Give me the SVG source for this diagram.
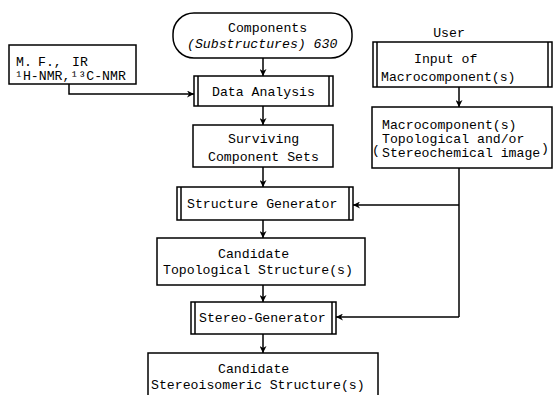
<svg xmlns="http://www.w3.org/2000/svg" width="554" height="395" viewBox="0 0 554 395">
<style>
.b{fill:#fff;stroke:#000;stroke-width:1.5}
.l{fill:none;stroke:#000;stroke-width:1.5}
.c{fill:none;stroke:#000;stroke-width:1.5;marker-end:url(#ah)}
text{font-family:"Liberation Mono","DejaVu Sans Mono",monospace;font-size:13.2px;fill:#000}
.m{text-anchor:middle}
</style>
<defs>
<marker id="ah" viewBox="0 0 10 10" refX="10" refY="5" markerWidth="7" markerHeight="7" markerUnits="userSpaceOnUse" orient="auto">
<path d="M0,0 L10,5 L0,10 L3,5 Z" fill="#000"/>
</marker>
</defs>
<rect width="554" height="395" fill="#fff"/>
<g id="connectors">
<line class="c" x1="263" y1="58" x2="263" y2="76"/>
<polyline class="c" points="69,84 69,94 194,94"/>
<line class="c" x1="263" y1="106" x2="263" y2="125"/>
<line class="c" x1="263" y1="167" x2="263" y2="187"/>
<line class="c" x1="263" y1="220" x2="263" y2="238"/>
<line class="c" x1="263" y1="285" x2="263" y2="302"/>
<line class="c" x1="263" y1="334" x2="263" y2="353"/>
<line class="c" x1="459" y1="87" x2="459" y2="107"/>
<polyline class="l" points="459,168 459,317"/>
<line class="c" x1="459" y1="205" x2="353" y2="205"/>
<line class="c" x1="459" y1="317" x2="336" y2="317"/>
</g>
<g id="components">
<rect class="b" x="173" y="13" width="179" height="45" rx="21"/>
<text x="228" y="32">Components</text>
<text x="187" y="48" font-style="italic">(Substructures) 630</text>
</g>
<g id="mf">
<rect class="b" x="9" y="45" width="127" height="39"/>
<text x="16" y="66">M.</text>
<text x="38" y="66">F.,</text>
<text x="72" y="66">IR</text>
<text x="15" y="80">¹H-NMR,¹³C-NMR</text>
</g>
<g id="data-analysis">
<rect class="b" x="194" y="76" width="139" height="30"/>
<line class="l" x1="198" y1="76" x2="198" y2="106"/>
<line class="l" x1="329" y1="76" x2="329" y2="106"/>
<text x="212" y="96">Data Analysis</text>
</g>
<g id="surviving">
<rect class="b" x="193" y="125" width="140" height="42"/>
<text x="228" y="143">Surviving</text>
<text x="208" y="161">Component Sets</text>
</g>
<g id="structure-generator">
<rect class="b" x="177" y="187" width="176" height="33"/>
<line class="l" x1="181" y1="187" x2="181" y2="220"/>
<line class="l" x1="349" y1="187" x2="349" y2="220"/>
<text x="187" y="208">Structure Generator</text>
</g>
<g id="candidate-topological">
<rect class="b" x="157" y="238" width="208" height="47"/>
<text x="218" y="258">Candidate</text>
<text x="163" y="274">Topological Structure(s)</text>
</g>
<g id="stereo-generator">
<rect class="b" x="191" y="302" width="145" height="32"/>
<line class="l" x1="195" y1="302" x2="195" y2="334"/>
<line class="l" x1="332" y1="302" x2="332" y2="334"/>
<text x="199" y="322">Stereo-Generator</text>
</g>
<g id="candidate-stereo">
<rect class="b" x="148" y="353" width="230" height="50"/>
<text x="218" y="373">Candidate</text>
<text x="151" y="389">Stereoisomeric Structure(s)</text>
</g>
<g id="user-input">
<text x="449" y="37" class="m">User</text>
<rect class="b" x="373" y="42" width="179" height="45"/>
<line class="l" x1="377" y1="42" x2="377" y2="87"/>
<line class="l" x1="548" y1="42" x2="548" y2="87"/>
<text x="414" y="63">Input of</text>
<text x="381" y="81">Macrocomponent(s)</text>
</g>
<g id="macrocomponents">
<rect class="b" x="372" y="107" width="180" height="61"/>
<text x="382" y="129">Macrocomponent(s)</text>
<text x="382" y="143">Topological and/or</text>
<text x="382" y="157">Stereochemical image</text>
<text x="372" y="154" font-size="15">(</text>
<text x="541" y="152" font-size="15">)</text>
</g>
</svg>
